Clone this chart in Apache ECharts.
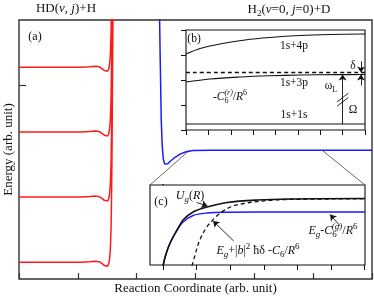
<!DOCTYPE html>
<html>
<head>
<meta charset="utf-8">
<script src="https://cdn.jsdelivr.net/npm/echarts@6.0.0/dist/echarts.min.js"></script>
<style>html,body{margin:0;padding:0;background:#fff;}#chart{width:374px;height:298px;}</style>
</head>
<body>
<div id="chart"></div>
<script>
// ===== data (arbitrary units) =====
// panel (a): reaction coordinate 0..6, energy 0..4
const mainXRange = [0, 6];
const mainYRange = [0, 4];
const mainYTicks = [3];
const redCurve1 = [[0,3.27],[1.04,3.27],[1.2,3.278],[1.3,3.285],[1.36,3.278],[1.41,3.25],[1.45,3.22],[1.48,3.202],[1.505,3.208],[1.525,3.245],[1.54,3.32],[1.553,3.47],[1.564,3.77],[1.573,4.27]];
const redCurve2 = [[0,2.27],[1.04,2.27],[1.2,2.278],[1.3,2.285],[1.36,2.278],[1.41,2.25],[1.45,2.22],[1.48,2.202],[1.505,2.208],[1.525,2.245],[1.54,2.32],[1.553,2.47],[1.564,2.77],[1.573,3.27],[1.58,3.87],[1.584,4.2]];
const redCurve3 = [[0,1.265],[1.04,1.265],[1.2,1.273],[1.3,1.28],[1.36,1.273],[1.41,1.245],[1.45,1.215],[1.48,1.197],[1.505,1.203],[1.525,1.24],[1.54,1.315],[1.553,1.465],[1.564,1.765],[1.573,2.265],[1.58,2.865],[1.586,3.665],[1.59,4.2]];
const redCurve4 = [[0,0.26],[1.04,0.26],[1.2,0.268],[1.3,0.275],[1.36,0.268],[1.41,0.24],[1.45,0.21],[1.48,0.192],[1.505,0.198],[1.525,0.235],[1.54,0.31],[1.553,0.46],[1.564,0.76],[1.573,1.26],[1.58,1.86],[1.586,2.66],[1.592,3.46],[1.597,4.2]];
const blueCurve = [[2.385,4.3],[2.4,3.4],[2.418,2.45],[2.435,2.05],[2.452,1.86],[2.475,1.775],[2.5,1.76],[2.53,1.78],[2.567,1.815],[2.652,1.88],[2.737,1.928],[2.839,1.966],[2.958,1.984],[3.25,1.99],[6,1.99]];
const zoomAnchors = [[2.9,1.99],[5.15,1.99]];

// panel (b)
const bXRange = [0, 8];
const bYRange = [0, 4];
const curve4p = [[0,3.04],[0.63,3.26],[1.52,3.44],[2.64,3.6],[3.75,3.7],[5.1,3.78],[6.44,3.82],[8,3.84]];
const curve3p = [[0,1.92],[1.07,2.04],[2.41,2.12],[3.75,2.17],[5.1,2.2],[6.8,2.215],[8,2.22]];
const laserLevel = [[0,2.3],[8,2.3]];
const curve1s = [[0,0.24],[8,0.24]];
const omegaArrow = [[7,0.24],[7,2.22]];
const deltaArrows = [[[7.82,2.75],[7.82,2.3]], [[7.82,1.78],[7.82,2.22]]];
const breakMarks = [[[6.75,0.95],[7.25,1.3]], [[6.75,1.12],[7.25,1.47]]];

// panel (c)
const cXRange = [-0.39, 6.01];
const cYRange = [0, 8];
const cXTicks = [0,1,2,3,4,5,6];
const cYTicks = [5.3];
const curveEgC6 = [[0,-0.1],[0.06,0.8],[0.208,2.2],[0.417,3.5],[0.595,4.3],[0.893,4.95],[1.31,5.2],[1.905,5.28],[2.887,5.3],[6.01,5.3]];
const curveUg = [[0,-0.1],[0.06,0.8],[0.208,2.2],[0.417,3.5],[0.595,4.5],[0.893,5.3],[1.31,5.8],[1.905,6.25],[2.8,6.5],[3.78,6.6],[6.01,6.65]];
const curveDressed = [[0.86,-0.1],[0.95,1.0],[1.08,2.4],[1.28,3.7],[1.45,4.4],[1.65,5.05],[2.0,5.8],[2.4,6.15],[2.7,6.3],[3.2,6.47],[3.7,6.55],[6.01,6.63]];
const arrowUg = [[1.0,6.25],[1.32,5.9]];
const arrowDressed = [[2.1,2.4],[1.49,4.4]];
const arrowEgC6 = [[5.27,3.9],[4.97,5.05]];

// ===== styling helpers =====
const F = 'Liberation Serif';
const INK = '#111';
function rich(fs) {
  const s = Math.round(fs * 0.72);
  const lh = Math.round(fs * 1.5);
  const B = lh / 2 + 0.35 * fs;
  const subC = B + 0.2 * fs - 0.35 * s;
  const supC = B - 0.45 * fs - 0.35 * s;
  const p2 = Math.max(0, lh - s / 2 - subC);
  const p0 = Math.max(0, supC - s / 2);
  const base = {fontFamily: F, fill: INK};
  return {
    n: Object.assign({fontSize: fs, lineHeight: lh}, base),
    i: Object.assign({fontSize: fs, lineHeight: lh, fontStyle: 'italic'}, base),
    sb: Object.assign({fontSize: s, verticalAlign: 'bottom', padding: [0,0,p2,0]}, base),
    sbi: Object.assign({fontSize: s, fontStyle: 'italic', verticalAlign: 'bottom', padding: [0,0,p2,0]}, base),
    sp: Object.assign({fontSize: s, verticalAlign: 'top', padding: [p0,0,0,0]}, base),
    spk: Object.assign({fontSize: s, fontStyle: 'italic', verticalAlign: 'top', padding: [p0,0,0,-Math.round(s*0.5)]}, base)
  };
}
const R13 = rich(13), R12 = rich(12), R11 = rich(11.5);
function txt(x, y, text, r) {
  return {type: 'text', x: x, y: y, z: 100, silent: true,
    style: {text: text, rich: r, align: 'center', verticalAlign: 'middle', fill: INK, fontFamily: F}};
}
function curve(data, idx, color, width, type, smooth) {
  return {type: 'line', data: data, xAxisIndex: idx, yAxisIndex: idx, showSymbol: false, symbol: 'none',
    smooth: smooth === undefined ? 0.35 : smooth, clip: true, silent: true, animation: false, z: 3,
    lineStyle: {color: color, width: width, type: type || 'solid'}};
}
function arrows(list, xi, yi, withHead) {
  return {type: 'lines', coordinateSystem: 'cartesian2d', xAxisIndex: xi, yAxisIndex: yi,
    symbol: withHead ? ['none', 'arrow'] : 'none', symbolSize: 6, silent: true, animation: false, z: 6,
    lineStyle: {color: INK, width: 0.9, opacity: 1, curveness: 0},
    data: list.map(c => ({coords: c}))};
}
const axisTxt = {fontFamily: F, fontSize: 13, color: INK};
function hiddenAxisBase(min, max) {
  return {type: 'value', min: min, max: max, splitLine: {show: false}, axisLabel: {show: false}};
}

const option = {
  animation: false,
  backgroundColor: '#fff',
  grid: [
    {left: 19, top: 20, width: 353, height: 259, show: true, borderColor: '#333', borderWidth: 1.4, backgroundColor: '#fff', outerBoundsMode: 'none', containLabel: false},
    {left: 186, top: 30, width: 179, height: 100, show: true, borderColor: INK, borderWidth: 1.1, backgroundColor: '#fff', z: 1, outerBoundsMode: 'none', containLabel: false},
    {left: 150, top: 185, width: 215, height: 80, show: true, borderColor: INK, borderWidth: 1.1, backgroundColor: '#fff', z: 1, outerBoundsMode: 'none', containLabel: false}
  ],
  xAxis: [
    Object.assign(hiddenAxisBase(mainXRange[0], mainXRange[1]), {gridIndex: 0, interval: 1,
      name: 'Reaction Coordinate (arb. unit)', nameLocation: 'middle', nameGap: 3, nameTextStyle: Object.assign({verticalAlign: 'top'}, axisTxt),
      axisLine: {show: false}, axisTick: {inside: true, length: 6, lineStyle: {color: '#333', width: 1.2}}}),
    Object.assign(hiddenAxisBase(bXRange[0], bXRange[1]), {gridIndex: 1, interval: 1,
      axisLine: {show: false}, axisTick: {inside: false, length: 5, lineStyle: {color: INK, width: 1}}}),
    Object.assign(hiddenAxisBase(cXRange[0], cXRange[1]), {gridIndex: 2, position: 'bottom',
      axisLine: {show: false}, axisTick: {inside: false, length: 5, customValues: cXTicks, lineStyle: {color: INK, width: 1}}}),
    Object.assign(hiddenAxisBase(cXRange[0], cXRange[1]), {gridIndex: 2, position: 'top',
      axisLine: {show: false}, axisTick: {inside: false, length: 5, customValues: cXTicks, lineStyle: {color: INK, width: 1}}})
  ],
  yAxis: [
    Object.assign(hiddenAxisBase(mainYRange[0], mainYRange[1]), {gridIndex: 0,
      name: 'Energy (arb. unit)', nameLocation: 'middle', nameGap: 4, nameTextStyle: axisTxt,
      axisLine: {show: false}, axisTick: {inside: true, length: 7, customValues: mainYTicks, lineStyle: {color: '#333', width: 1.2}}}),
    Object.assign(hiddenAxisBase(bYRange[0], bYRange[1]), {gridIndex: 1, interval: 1,
      axisLine: {show: false}, axisTick: {inside: false, length: 5, lineStyle: {color: INK, width: 1}}}),
    Object.assign(hiddenAxisBase(cYRange[0], cYRange[1]), {gridIndex: 2, position: 'left',
      axisLine: {show: false}, axisTick: {inside: false, length: 9, customValues: cYTicks, lineStyle: {color: INK, width: 1}}}),
    Object.assign(hiddenAxisBase(cYRange[0], cYRange[1]), {gridIndex: 2, position: 'right',
      axisLine: {show: true, lineStyle: {color: INK, width: 2}}, axisTick: {inside: false, length: 7, customValues: cYTicks, lineStyle: {color: INK, width: 1}}})
  ],
  series: [
    curve(redCurve1, 0, '#ff1a1a', 1.5, 'solid', false),
    curve(redCurve2, 0, '#ff1a1a', 1.5, 'solid', false),
    curve(redCurve3, 0, '#ff1a1a', 1.5, 'solid', false),
    curve(redCurve4, 0, '#ff1a1a', 1.5, 'solid', false),
    curve(blueCurve, 0, '#1a1aff', 1.5, 'solid', false),
    curve(curve4p, 1, INK, 1.2),
    curve(curve3p, 1, INK, 1.2),
    curve(laserLevel, 1, INK, 1.3, [4, 3]),
    curve(curve1s, 1, INK, 1.2),
    arrows([omegaArrow], 1, 1, true),
    arrows(deltaArrows, 1, 1, true),
    arrows(breakMarks, 1, 1, false),
    curve(curveEgC6, 2, '#1a1aff', 1.4),
    curve(curveUg, 2, INK, 1.6),
    curve(curveDressed, 2, INK, 1.3, [4, 3]),
    arrows([arrowUg, arrowDressed, arrowEgC6], 2, 2, true)
  ]
};

const chart = echarts.init(document.getElementById('chart'), null, {renderer: 'canvas', width: 374, height: 298});
chart.setOption(option);

// connector lines from the zoomed region of (a) to the corners of inset (c)
const cTL = chart.convertToPixel({xAxisIndex: 2, yAxisIndex: 2}, [cXRange[0], cYRange[1]]);
const cTR = chart.convertToPixel({xAxisIndex: 2, yAxisIndex: 2}, [cXRange[1], cYRange[1]]);
const a1 = chart.convertToPixel({xAxisIndex: 0, yAxisIndex: 0}, zoomAnchors[0]);
const a2 = chart.convertToPixel({xAxisIndex: 0, yAxisIndex: 0}, zoomAnchors[1]);

const graphics = [
  {type: 'line', z: 50, silent: true, shape: {x1: a1[0], y1: a1[1], x2: cTL[0], y2: cTL[1]}, style: {stroke: '#444', lineWidth: 0.8}},
  {type: 'line', z: 50, silent: true, shape: {x1: a2[0], y1: a2[1], x2: cTR[0], y2: cTR[1]}, style: {stroke: '#444', lineWidth: 0.8}},
  txt(66, 9, '{n|HD(}{i|v}{n|, }{i|j}{n|)+H}', R13),
  txt(289, 10, '{n|H}{sb|2}{n|(}{i|v}{n|=0, }{i|j}{n|=0)+D}', R13),
  txt(35, 37, '{n|(a)}', R12),
  txt(194, 39, '{n|(b)}', R11),
  txt(294, 46, '{n|1s+4p}', R11),
  txt(294, 83, '{n|1s+3p}', R11),
  txt(294, 115, '{n|1s+1s}', R11),
  txt(230, 97, '{n|-}{i|C}{sb|6}{spk|(r)}{n|/}{i|R}{sp|6}', R11),
  txt(353, 66, '{n|δ}', R11),
  txt(331, 86, '{n|ω}{sb|L}', R11),
  txt(353, 110, '{n|Ω}', R11),
  txt(161, 202, '{n|(c)}', R12),
  txt(190, 196, '{i|U}{sbi|g}{n|(}{i|R}{n|)}', R12),
  txt(258, 251, '{i|E}{sbi|g}{n|+|}{i|b}{n||}{sp|2}{n| ħδ -}{i|C}{sb|6}{n|/}{i|R}{sp|6}', R12),
  txt(333, 231, '{i|E}{sbi|g}{n|-}{i|C}{sb|6}{spk|(g)}{n|/}{i|R}{sp|6}', R12)
];
chart.setOption({graphic: graphics});
</script>
</body>
</html>
